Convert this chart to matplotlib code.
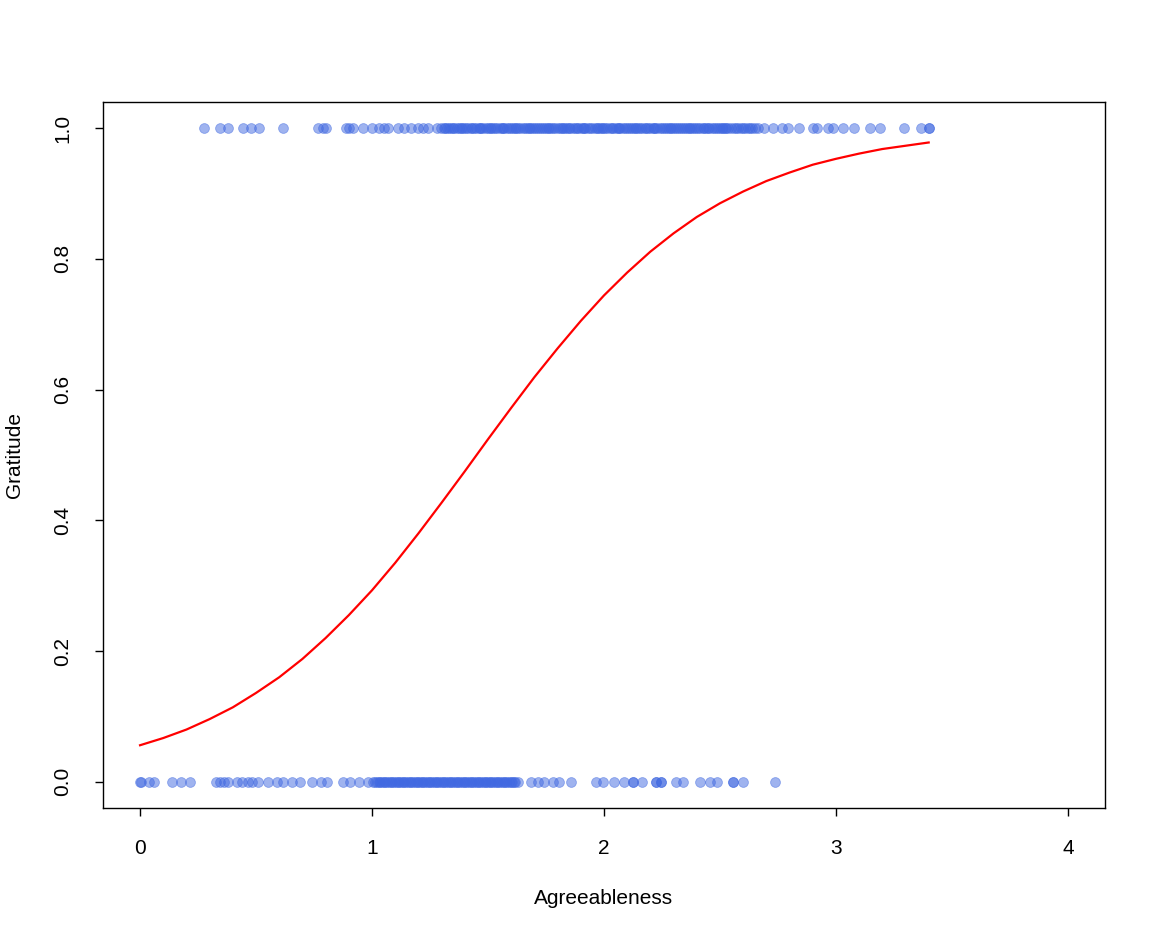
import numpy as np
import matplotlib.pyplot as plt

plt.rcParams['font.family'] = ['Liberation Sans', 'DejaVu Sans']

# Agreeableness scores for the gratitude = 1 group
agree_yes = [0.276, 0.346, 0.38, 0.445, 0.48, 0.514, 0.618, 0.769, 0.79, 0.803,
             0.886, 0.9, 0.916, 0.963, 1.002, 1.028, 1.05, 1.071, 1.11, 1.136,
             1.166, 1.2, 1.222, 1.24, 1.28, 1.296,
             1.31, 1.316, 1.322, 1.331, 1.34, 1.348, 1.355, 1.366, 1.375, 1.382,
             1.39, 1.398, 1.405, 1.415, 1.425, 1.433, 1.44, 1.45, 1.46, 1.465,
             1.47, 1.48, 1.49, 1.5, 1.51, 1.515, 1.52, 1.53, 1.54, 1.55,
             1.56, 1.565, 1.57, 1.58, 1.59, 1.6, 1.61, 1.615, 1.62, 1.63,
             1.64, 1.65, 1.66, 1.668, 1.675, 1.683, 1.69, 1.698, 1.705, 1.715,
             1.725, 1.733, 1.74, 1.75, 1.76, 1.765, 1.77, 1.78, 1.79, 1.8,
             1.81, 1.818, 1.825, 1.833, 1.84, 1.848, 1.855, 1.865, 1.875, 1.882,
             1.89, 1.9, 1.91, 1.915, 1.92, 1.93, 1.94, 1.95, 1.96, 1.968,
             1.975, 1.983, 1.99, 1.998, 2.005, 2.015, 2.025, 2.033, 2.04, 2.05,
             2.06, 2.065, 2.07, 2.08, 2.09, 2.1, 2.11, 2.118, 2.125, 2.133,
             2.14, 2.148, 2.155, 2.165, 2.175, 2.183, 2.19, 2.2, 2.21, 2.215,
             2.22, 2.23, 2.24, 2.25, 2.26, 2.268, 2.275, 2.283, 2.29, 2.298,
             2.305, 2.315, 2.325, 2.333, 2.34, 2.35, 2.36, 2.365, 2.37, 2.38,
             2.39, 2.398, 2.405, 2.415, 2.425, 2.433, 2.44, 2.448, 2.455, 2.465,
             2.475, 2.483, 2.49, 2.5, 2.51, 2.515, 2.52, 2.528, 2.536,
             2.548, 2.56, 2.57, 2.58, 2.59, 2.6, 2.61, 2.62, 2.63, 2.64, 2.652, 2.665,
             2.69, 2.73, 2.769, 2.795, 2.842, 2.903, 2.92, 2.968, 2.989, 3.032,
             3.08, 3.145, 3.192, 3.292, 3.369, 3.4, 3.4]

# Agreeableness scores for the gratitude = 0 group
agree_no = [0.0, 0.004, 0.039, 0.06, 0.138, 0.177, 0.216, 0.328, 0.346, 0.363,
            0.38, 0.419, 0.44, 0.467, 0.484, 0.51, 0.553, 0.592, 0.618, 0.657,
            0.691, 0.743, 0.778, 0.808, 0.873, 0.907, 0.942, 0.981,
            1.005, 1.012, 1.02, 1.028, 1.035, 1.043, 1.05, 1.058, 1.065, 1.072,
            1.08, 1.088, 1.095, 1.102, 1.11, 1.118, 1.125, 1.132, 1.14, 1.148,
            1.155, 1.162, 1.17, 1.178, 1.185, 1.192, 1.2, 1.208, 1.215, 1.222,
            1.23, 1.238, 1.245, 1.252, 1.26, 1.268, 1.275, 1.282, 1.29, 1.298,
            1.305, 1.312, 1.32, 1.328, 1.335, 1.342, 1.35, 1.358, 1.365, 1.372,
            1.38, 1.388, 1.395, 1.402, 1.41, 1.418, 1.425, 1.432, 1.44, 1.448,
            1.455, 1.462, 1.47, 1.478, 1.485, 1.492, 1.5, 1.508, 1.515, 1.522,
            1.53, 1.538, 1.545, 1.552, 1.56, 1.568, 1.575, 1.582, 1.59, 1.598,
            1.605, 1.612, 1.618, 1.628,
            1.685, 1.715, 1.741, 1.78, 1.806, 1.857, 1.965, 1.996, 2.043,
            2.086, 2.125, 2.125, 2.164, 2.225, 2.225, 2.246, 2.246, 2.311,
            2.341, 2.415, 2.458, 2.488, 2.557, 2.557, 2.6, 2.739]

# fitted probability curve
curve_x = [0.0, 0.1, 0.2, 0.3, 0.4, 0.5, 0.6, 0.7, 0.8, 0.9, 1.0, 1.1, 1.2,
           1.3, 1.4, 1.5, 1.6, 1.7, 1.8, 1.9, 2.0, 2.1, 2.2, 2.3, 2.4, 2.5,
           2.6, 2.7, 2.8, 2.9, 3.0, 3.1, 3.2, 3.3, 3.4]
curve_y = [0.056, 0.067, 0.080, 0.096, 0.114, 0.136, 0.160, 0.188, 0.220,
           0.255, 0.293, 0.335, 0.380, 0.427, 0.475, 0.524, 0.572, 0.619,
           0.663, 0.705, 0.744, 0.779, 0.811, 0.839, 0.864, 0.885, 0.903,
           0.919, 0.932, 0.944, 0.953, 0.961, 0.968, 0.973, 0.978]

fig = plt.figure(figsize=(11.58, 9.38), dpi=100)
ax = fig.add_axes([0.0889, 0.1386, 0.8653, 0.7527])

pt_col = (65/255, 105/255, 225/255, 0.5)
ax.scatter(agree_yes, np.ones(len(agree_yes)), s=50, color=pt_col,
           edgecolors=pt_col, linewidths=0.6)
ax.scatter(agree_no, np.zeros(len(agree_no)), s=50, color=pt_col,
           edgecolors=pt_col, linewidths=0.6)
ax.plot(curve_x, curve_y, color='red', lw=1.6)

ax.set_xlim(-0.16, 4.16)
ax.set_ylim(-0.04, 1.04)
ax.set_xticks([0, 1, 2, 3, 4])
ax.set_yticks([0.0, 0.2, 0.4, 0.6, 0.8, 1.0])
ax.set_yticklabels(['0.0', '0.2', '0.4', '0.6', '0.8', '1.0'], rotation=90, va='center')
ax.tick_params(direction='out', length=6, width=1, labelsize=15, color='black')
ax.tick_params(axis='x', pad=16)
ax.tick_params(axis='y', pad=16)
for sp in ax.spines.values():
    sp.set_linewidth(1)

ax.set_xlabel('Agreeableness', fontsize=15, va='center')
ax.xaxis.set_label_coords(0.5, -0.1275)
ax.set_ylabel('Gratitude', fontsize=15, va='center')
ax.yaxis.set_label_coords(-0.088, 0.5)

fig.savefig('out.png', dpi=100)
